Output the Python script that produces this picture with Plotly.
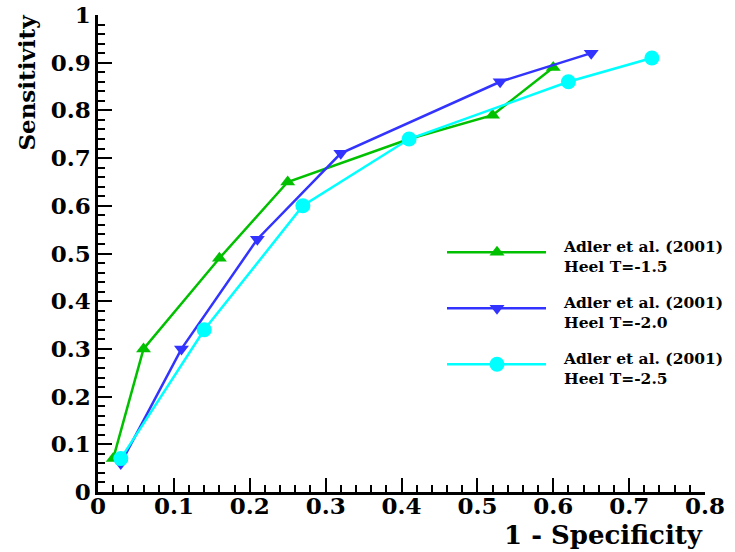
import plotly.graph_objects as go

# Data
x_t15 = [0.02, 0.06, 0.16, 0.25, 0.41, 0.52, 0.60]
y_t15 = [0.07, 0.30, 0.49, 0.65, 0.74, 0.79, 0.89]
x_t20 = [0.03, 0.11, 0.21, 0.32, 0.53, 0.65]
y_t20 = [0.06, 0.30, 0.53, 0.71, 0.86, 0.92]
x_t25 = [0.03, 0.14, 0.27, 0.41, 0.62, 0.73]
y_t25 = [0.07, 0.34, 0.60, 0.74, 0.86, 0.91]
names = ["Adler et al. (2001)<br>Heel T=-1.5",
         "Adler et al. (2001)<br>Heel T=-2.0",
         "Adler et al. (2001)<br>Heel T=-2.5"]
x_ticks = [0, 0.1, 0.2, 0.3, 0.4, 0.5, 0.6, 0.7, 0.8]
x_ticklabels = ["0", "0.1", "0.2", "0.3", "0.4", "0.5", "0.6", "0.7", "0.8"]
y_ticks = [0, 0.1, 0.2, 0.3, 0.4, 0.5, 0.6, 0.7, 0.8, 0.9, 1.0]
y_ticklabels = ["0", "0.1", "0.2", "0.3", "0.4", "0.5", "0.6", "0.7", "0.8", "0.9", "1"]

colors = ["#00c000", "#3333ff", "#00ffff"]
symbols = ["triangle-up", "triangle-down", "circle"]
sizes = [13, 13, 15]
FONT = "DejaVu Serif"

fig = go.Figure()
series = [(x_t15, y_t15), (x_t20, y_t20), (x_t25, y_t25)]
for (xs, ys), c, s, sz in zip(series, colors, symbols, sizes):
    fig.add_trace(go.Scatter(x=xs, y=ys, mode="lines+markers",
                             line=dict(color=c, width=2.5),
                             marker=dict(symbol=s, size=sz, color=c),
                             showlegend=False, cliponaxis=False))

# Custom legend drawn on an overlay axis in pixel-like units
L, R, B, T = 98, 705, 491.7, 15
leg_y = [252, 308, 364]
for c, s, sz, ly, nm in zip(colors, symbols, sizes, leg_y, names):
    fig.add_trace(go.Scatter(x=[447, 546], y=[ly, ly], mode="lines",
                             line=dict(color=c, width=2.5),
                             xaxis="x2", yaxis="y2", showlegend=False,
                             hoverinfo="skip", cliponaxis=False))
    fig.add_trace(go.Scatter(x=[497], y=[ly], mode="markers",
                             marker=dict(symbol=s, size=sz, color=c),
                             xaxis="x2", yaxis="y2", showlegend=False,
                             hoverinfo="skip", cliponaxis=False))
    fig.add_annotation(x=561, y=ly + 4, xref="x2", yref="y2",
                       text="<b>" + nm.replace("<br>", "</b><br><b>") + "</b>",
                       showarrow=False, xanchor="left", yanchor="middle", align="left",
                       font=dict(family=FONT, size=15.5, color="black"))

axis_common = dict(showline=True, linecolor="black", linewidth=2.5, showgrid=False,
                   zeroline=False, ticks="inside", ticklen=14, tickwidth=2,
                   tickcolor="black", mirror=False, automargin=False,
                   ticklabeloverflow="allow",
                   tickfont=dict(family=FONT, size=23, color="black"),
                   minor=dict(ticks="inside", ticklen=7, tickwidth=1.5, tickcolor="black"))

fig.update_layout(
    width=735, height=552,
    margin=dict(l=L, r=735 - R, t=T, b=552 - B),
    plot_bgcolor="white", paper_bgcolor="white",
    xaxis=dict(range=[0, 0.8], tickmode="array", tickvals=x_ticks,
               ticktext=["<b>" + t + "</b>" for t in x_ticklabels],
               ticklabelstandoff=-8,
               minor_dtick=0.02, minor_tick0=0, **axis_common),
    yaxis=dict(range=[0, 1], tickmode="array", tickvals=y_ticks,
               ticktext=["<b>" + t + "</b>" for t in y_ticklabels],
               minor_dtick=0.02, minor_tick0=0, **axis_common),
    xaxis2=dict(range=[L, R], overlaying="x", visible=False, anchor="y2", automargin=False),
    yaxis2=dict(range=[B, T], overlaying="y", visible=False, anchor="x2", automargin=False),
)

fig.add_annotation(x=1.0, y=-0.091, xref="paper", yref="paper", text="<b>1 - Specificity</b>",
                   showarrow=False, xanchor="right", yanchor="middle",
                   font=dict(family=FONT, size=26, color="black"))
fig.add_annotation(x=-0.117, y=1.005, xref="paper", yref="paper", text="<b>Sensitivity</b>",
                   showarrow=False, xanchor="center", yanchor="top", textangle=-90,
                   font=dict(family=FONT, size=23, color="black"))

fig.write_html("out.html", config={"displayModeBar": False},
               post_script="document.body.style.margin='0';document.body.style.overflow='hidden';")
